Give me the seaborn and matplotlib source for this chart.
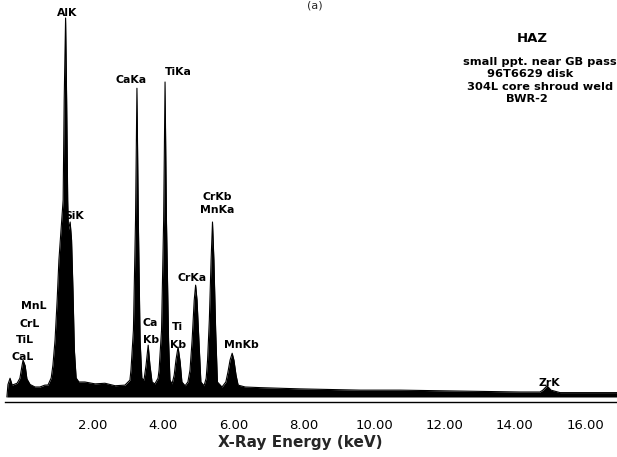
import matplotlib
matplotlib.use("Agg")
import matplotlib.pyplot as plt
import seaborn as sns
import pandas as pd

# EDS spectrum outline: energy (keV) and counts
energy_kev = [
    -0.45, -0.42, -0.36, -0.30, -0.16, -0.08, -0.02, 0.01, 0.07, 0.12,
    0.21, 0.35, 0.49, 0.63, 0.72, 0.81, 0.86, 0.92, 0.98, 1.03,
    1.09, 1.15, 1.18, 1.22, 1.25, 1.28, 1.30, 1.35, 1.39, 1.43,
    1.47, 1.52, 1.60, 1.77, 2.06, 2.34, 2.63, 2.91, 3.05,
    3.08, 3.15, 3.21, 3.25, 3.29, 3.34, 3.39,
    3.45, 3.51, 3.57, 3.62, 3.68, 3.76, 3.85,
    3.88, 3.95, 4.01, 4.05, 4.09, 4.15, 4.19,
    4.25, 4.31, 4.36, 4.42, 4.48, 4.53, 4.62, 4.70,
    4.76, 4.82, 4.88, 4.92, 4.96, 5.02, 5.07, 5.16, 5.22,
    5.26, 5.31, 5.36, 5.40, 5.44, 5.49, 5.54, 5.67, 5.78,
    5.84, 5.90, 5.96, 6.01, 6.07, 6.13,
    6.33, 6.75, 7.32, 7.89, 8.74, 9.60, 10.74, 11.87, 13.01, 14.15,
    14.72, 14.80, 14.92, 15.03, 15.29, 16.14, 16.91,
]
counts = [
    0, 100, 150, 95, 110, 150, 250, 295, 250, 145,
    100, 80, 80, 95, 96, 152, 256, 456, 776, 1096,
    1336, 1576, 2376, 3032, 2376, 1576, 1336, 1400, 1256, 856,
    376, 152, 120, 120, 105, 110, 90, 95, 135,
    215, 535, 1415, 2470, 1415, 455, 150,
    135, 255, 415, 255, 120, 105, 150,
    215, 535, 1415, 2520, 1415, 455, 135,
    105, 175, 295, 400, 280, 120, 90, 120,
    215, 455, 775, 895, 775, 415, 120, 90, 150,
    295, 615, 1095, 1400, 1095, 535, 120, 80, 120,
    200, 295, 350, 295, 175, 95,
    80, 75, 70, 65, 60, 55, 55, 50, 45, 40,
    40, 55, 90, 55, 35, 35, 35,
]

# Peak labels: text, energy, counts, stacking order
peak_labels = ["AlK", "SiK", "CaKa", "TiKa", "CrKb", "MnKa", "CrKa", "MnKb",
               "Ca", "Kb", "Ti", "Kb", "MnL", "CrL", "TiL", "CaL", "ZrK"]
label_energy = [1.26, 1.45, 3.08, 4.42, 5.53, 5.53, 4.82, 6.21,
                3.63, 3.66, 4.39, 4.42, 0.32, 0.21, 0.07, 0.01, 14.97]
label_counts = [3075, 1445, 2536, 2600, 1600, 1496, 952, 416,
                592, 456, 560, 416, 728, 584, 456, 320, 110]
label_under = [False, False, False, False, False, False, False, False,
               True, True, True, True, False, False, False, False, False]

tick_values = [2, 4, 6, 8, 10, 12, 14, 16]
tick_text = ["2.00", "4.00", "6.00", "8.00", "10.00", "12.00", "14.00", "16.00"]

info_lines = ["HAZ", "small ppt. near GB pass", "96T6629 disk",
              "304L core shroud weld", "BWR-2"]

df = pd.DataFrame({"energy": energy_kev, "counts": counts})

sns.set_style("white")
plt.rcParams["font.family"] = ["DejaVu Sans"]

fig = plt.figure(figsize=(6.17, 4.57), dpi=100)
ax = fig.add_axes([5 / 617, 55 / 457, 612 / 617, 402 / 457])

ax.fill_between(df["energy"], 0, df["counts"], color="black", lw=0, zorder=2)
sns.lineplot(data=df, x="energy", y="counts", ax=ax, color="black",
             lw=0.8, zorder=3)

ax.set_xlim(-0.504, 16.91)
ax.set_ylim(-40, 3176)

for txt, e, c, under in zip(peak_labels, label_energy, label_counts, label_under):
    ax.text(e, c, txt, ha="center", va="center", fontsize=7.8,
            fontweight="bold", color="black", zorder=1 if under else 4)

ax.set_xticks(tick_values)
ax.set_xticklabels(tick_text, fontsize=9.5)
ax.set_yticks([])
ax.tick_params(axis="x", length=0, pad=12, colors="black")

ax.set_xlabel("X-Ray Energy (keV)", fontsize=11, fontweight="bold", va="top")
ax.xaxis.set_label_coords(0.482, -0.082)
ax.set_ylabel("")

for side in ["left", "right", "top"]:
    ax.spines[side].set_visible(False)
ax.spines["bottom"].set_color("black")
ax.spines["bottom"].set_linewidth(1.0)

# sample description block
info_x = [532, 540, 530, 540, 527]
info_y = [38, 62, 74, 87, 99]
for i, (line, px, py) in enumerate(zip(info_lines, info_x, info_y)):
    fig.text(px / 617, 1 - py / 457, line, ha="center", va="center",
             fontsize=9.5 if i == 0 else 8.2, fontweight="bold", color="black")

fig.text(315 / 617, 1.0, "(a)", ha="center", va="top", fontsize=8)

fig.savefig("out.png", dpi=100)
